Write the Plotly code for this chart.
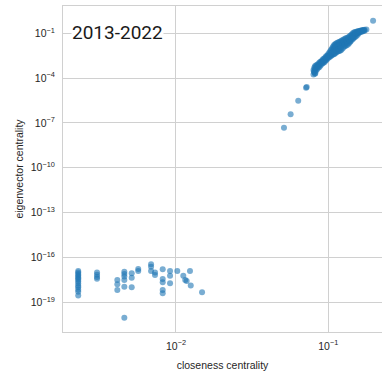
import plotly.graph_objects as go

# ---- lower cluster (closeness, eigenvector) ----
low_closeness = (
    [0.00228] * 14
    + [0.00303] * 4
    + [0.00412] * 3
    + [0.00458] * 6
    + [0.00512] * 3
    + [0.00565] * 2
    + [0.00686] * 3
    + [0.00728] * 2
    + [0.00818] * 5
    + [0.00914] * 3
    + [0.0102, 0.01117, 0.0115, 0.01175, 0.01236, 0.0125, 0.01483]
)
low_eigen = [
    1.26e-17, 1.0e-17, 7.9e-18, 6.3e-18, 5.0e-18, 4.0e-18, 3.2e-18, 2.5e-18,
    1.8e-18, 1.26e-18, 1.0e-18, 7.0e-19, 5.0e-19, 2.8e-19,
    1.0e-17, 7.0e-18, 5.0e-18, 3.8e-18,
    3.1e-18, 1.6e-18, 6.6e-19,
    1.1e-17, 7.8e-18, 5.4e-18, 3.1e-18, 1.1e-18, 9.3e-21,
    8.7e-18, 4.4e-18, 1.0e-18,
    1.7e-17, 1.24e-17,
    3.5e-17, 2.4e-17, 1.24e-17,
    1.0e-17, 6.7e-18,
    1.6e-17, 3.6e-18, 2.2e-18, 6.6e-19, 4.0e-19,
    1.24e-17, 6.0e-18, 1.9e-18,
    1.24e-17, 6.0e-18, 3.1e-18, 2.6e-18, 1.24e-17, 1.3e-18, 4.7e-19,
]

# ---- upper cluster ----
high_closeness = [
    0.0800, 0.0800, 0.0810, 0.0810, 0.0818, 0.0818, 0.0818, 0.0830, 0.0830,
    0.0845, 0.0845, 0.0860, 0.0860, 0.0875, 0.0875, 0.0890, 0.0890, 0.0905, 0.0905,
    0.0920, 0.0920, 0.0935, 0.0935, 0.0950, 0.0950, 0.0965, 0.0965, 0.0980, 0.0980,
    0.0998, 0.0998, 0.1015, 0.1015, 0.1030, 0.1030, 0.1045, 0.1045, 0.1060, 0.1060,
    0.1075, 0.1075, 0.1090, 0.1090, 0.1090, 0.1106, 0.1106, 0.1106,
    0.1120, 0.1120, 0.1120, 0.1140, 0.1140, 0.1140, 0.1160, 0.1160, 0.1160,
    0.1180, 0.1180, 0.1180, 0.1200, 0.1200, 0.1200, 0.1221, 0.1221, 0.1221,
    0.1245, 0.1245, 0.1245, 0.1270, 0.1270, 0.1270, 0.1295, 0.1295, 0.1295,
    0.1320, 0.1320, 0.1320, 0.1348, 0.1348, 0.1348, 0.1375, 0.1375, 0.1375,
    0.1400, 0.1400, 0.1400, 0.1425, 0.1425, 0.1425, 0.1450, 0.1450, 0.1450,
    0.1475, 0.1475, 0.1475, 0.1500, 0.1500, 0.1500, 0.1530, 0.1530, 0.1530,
    0.1560, 0.1560, 0.1560, 0.1590, 0.1590, 0.1620, 0.1620, 0.1655, 0.1655,
    0.1690, 0.1690, 0.1730, 0.1730, 0.1780,
    0.0805, 0.0825, 0.0838, 0.0852, 0.0868, 0.0882, 0.0898, 0.0912, 0.0928,
    0.0942, 0.0958, 0.0972, 0.0990, 0.1005, 0.1022, 0.1038, 0.1052, 0.1068,
    0.1082, 0.1098, 0.1113, 0.1130, 0.1150, 0.1170, 0.1190, 0.1210, 0.1233,
    0.1258, 0.1283, 0.1308, 0.1334, 0.1362, 0.1388, 0.1412, 0.1438, 0.1462,
    0.1488, 0.1515, 0.1545, 0.1575, 0.1605, 0.1640, 0.1670, 0.1710,
    0.197, 0.0822, 0.0715, 0.0722, 0.0635, 0.0566, 0.0512,
]
high_eigen = [
    3.55e-4, 1.78e-4, 5.01e-4, 2.51e-4, 6.31e-4, 3.55e-4, 2.0e-4, 7.08e-4, 3.16e-4,
    7.94e-4, 3.98e-4, 8.91e-4, 5.01e-4, 1.12e-3, 5.62e-4, 1.26e-3, 7.08e-4, 1.41e-3, 8.91e-4,
    1.78e-3, 1.0e-3, 2.0e-3, 1.12e-3, 2.24e-3, 1.26e-3, 2.82e-3, 1.58e-3, 3.16e-3, 1.78e-3,
    3.98e-3, 2.24e-3, 5.01e-3, 2.51e-3, 6.31e-3, 2.82e-3, 7.94e-3, 3.16e-3, 1.0e-2, 3.55e-3,
    1.26e-2, 3.98e-3, 1.58e-2, 7.08e-3, 3.98e-3, 1.78e-2, 8.91e-3, 4.47e-3,
    2.0e-2, 1.0e-2, 5.01e-3, 2.24e-2, 1.12e-2, 5.62e-3, 2.40e-2, 1.26e-2, 6.31e-3,
    2.63e-2, 1.41e-2, 6.61e-3, 2.82e-2, 1.58e-2, 7.08e-3, 3.16e-2, 1.58e-2, 7.94e-3,
    3.55e-2, 1.78e-2, 1.0e-2, 3.98e-2, 2.24e-2, 1.26e-2, 4.47e-2, 2.51e-2, 1.41e-2,
    4.79e-2, 2.82e-2, 1.58e-2, 5.25e-2, 3.16e-2, 1.78e-2, 6.03e-2, 3.55e-2, 2.24e-2,
    7.08e-2, 3.98e-2, 2.82e-2, 8.32e-2, 5.01e-2, 3.55e-2, 0.100, 6.31e-2, 4.17e-2,
    0.112, 7.59e-2, 5.01e-2, 0.120, 8.91e-2, 5.62e-2, 0.126, 8.91e-2, 6.61e-2,
    0.135, 0.100, 7.94e-2, 0.141, 0.105, 0.151, 0.117, 0.158, 0.126,
    0.166, 0.138, 0.174, 0.151, 0.178,
    2.82e-4, 4.47e-4, 5.62e-4, 6.31e-4, 7.08e-4, 8.91e-4, 1.12e-3, 1.26e-3, 1.41e-3,
    1.58e-3, 1.78e-3, 2.24e-3, 2.82e-3, 3.16e-3, 3.55e-3, 4.47e-3, 5.01e-3, 6.31e-3,
    8.91e-3, 1.12e-2, 1.41e-2, 7.08e-3, 1.58e-2, 8.91e-3, 2.0e-2, 1.12e-2, 2.24e-2,
    2.82e-2, 1.78e-2, 3.55e-2, 2.24e-2, 4.47e-2, 2.82e-2, 5.62e-2, 7.08e-2, 5.01e-2,
    8.91e-2, 0.105, 0.112, 0.120, 0.132, 0.141, 0.151, 0.158,
    0.70, 2.1e-4, 2.3e-5, 2.5e-5, 3.1e-6, 3.8e-7, 4.8e-8,
]

closeness = low_closeness + high_closeness
eigen = low_eigen + high_eigen

x_tick_vals = [1e-2, 1e-1]
x_tick_text = ["10<sup>\u22122</sup>", "10<sup>\u22121</sup>"]
y_tick_vals = [1e-19, 1e-16, 1e-13, 1e-10, 1e-7, 1e-4, 1e-1]
y_tick_text = ["10<sup>\u221219</sup>", "10<sup>\u221216</sup>", "10<sup>\u221213</sup>",
               "10<sup>\u221210</sup>", "10<sup>\u22127</sup>", "10<sup>\u22124</sup>",
               "10<sup>\u22121</sup>"]
title_text = "2013-2022"

fig = go.Figure()
fig.add_trace(go.Scatter(
    x=closeness, y=eigen, mode="markers",
    marker=dict(color="#1f77b4", size=6, opacity=0.6, line=dict(width=0)),
    showlegend=False,
))

grid = "#d0d0d0"
fig.update_layout(
    width=382, height=376,
    margin=dict(l=63, r=0, t=6, b=44),
    paper_bgcolor="white", plot_bgcolor="white",
    font=dict(family="Liberation Sans, Arial, sans-serif", size=10, color="#262626"),
    xaxis=dict(
        type="log", range=[-2.742, -0.647],
        tickmode="array", tickvals=x_tick_vals, ticktext=x_tick_text,
        showgrid=True, gridcolor=grid, gridwidth=1,
        showline=True, linecolor=grid, linewidth=1, mirror=True,
        zeroline=False, ticks="", ticklabelstandoff=4,
        title=dict(text="closeness centrality", font=dict(size=10.5), standoff=11),
        tickfont=dict(size=10.5),
    ),
    yaxis=dict(
        type="log", range=[-20.99, 0.827],
        tickmode="array", tickvals=y_tick_vals, ticktext=y_tick_text,
        showgrid=True, gridcolor=grid, gridwidth=1,
        showline=True, linecolor=grid, linewidth=1, mirror=False,
        zeroline=False, ticks="", ticklabelstandoff=5,
        title=dict(text="eigenvector centrality", font=dict(size=10.5), standoff=5),
        tickfont=dict(size=10.5),
    ),
    annotations=[dict(
        text=title_text, xref="paper", yref="paper",
        x=0.026, y=0.918, xanchor="left", yanchor="middle",
        showarrow=False, bgcolor="white", borderpad=0,
        font=dict(family="Roboto, sans-serif", size=19, color="#1a1a1a"),
    )],
)

fig.write_html("out.html")
